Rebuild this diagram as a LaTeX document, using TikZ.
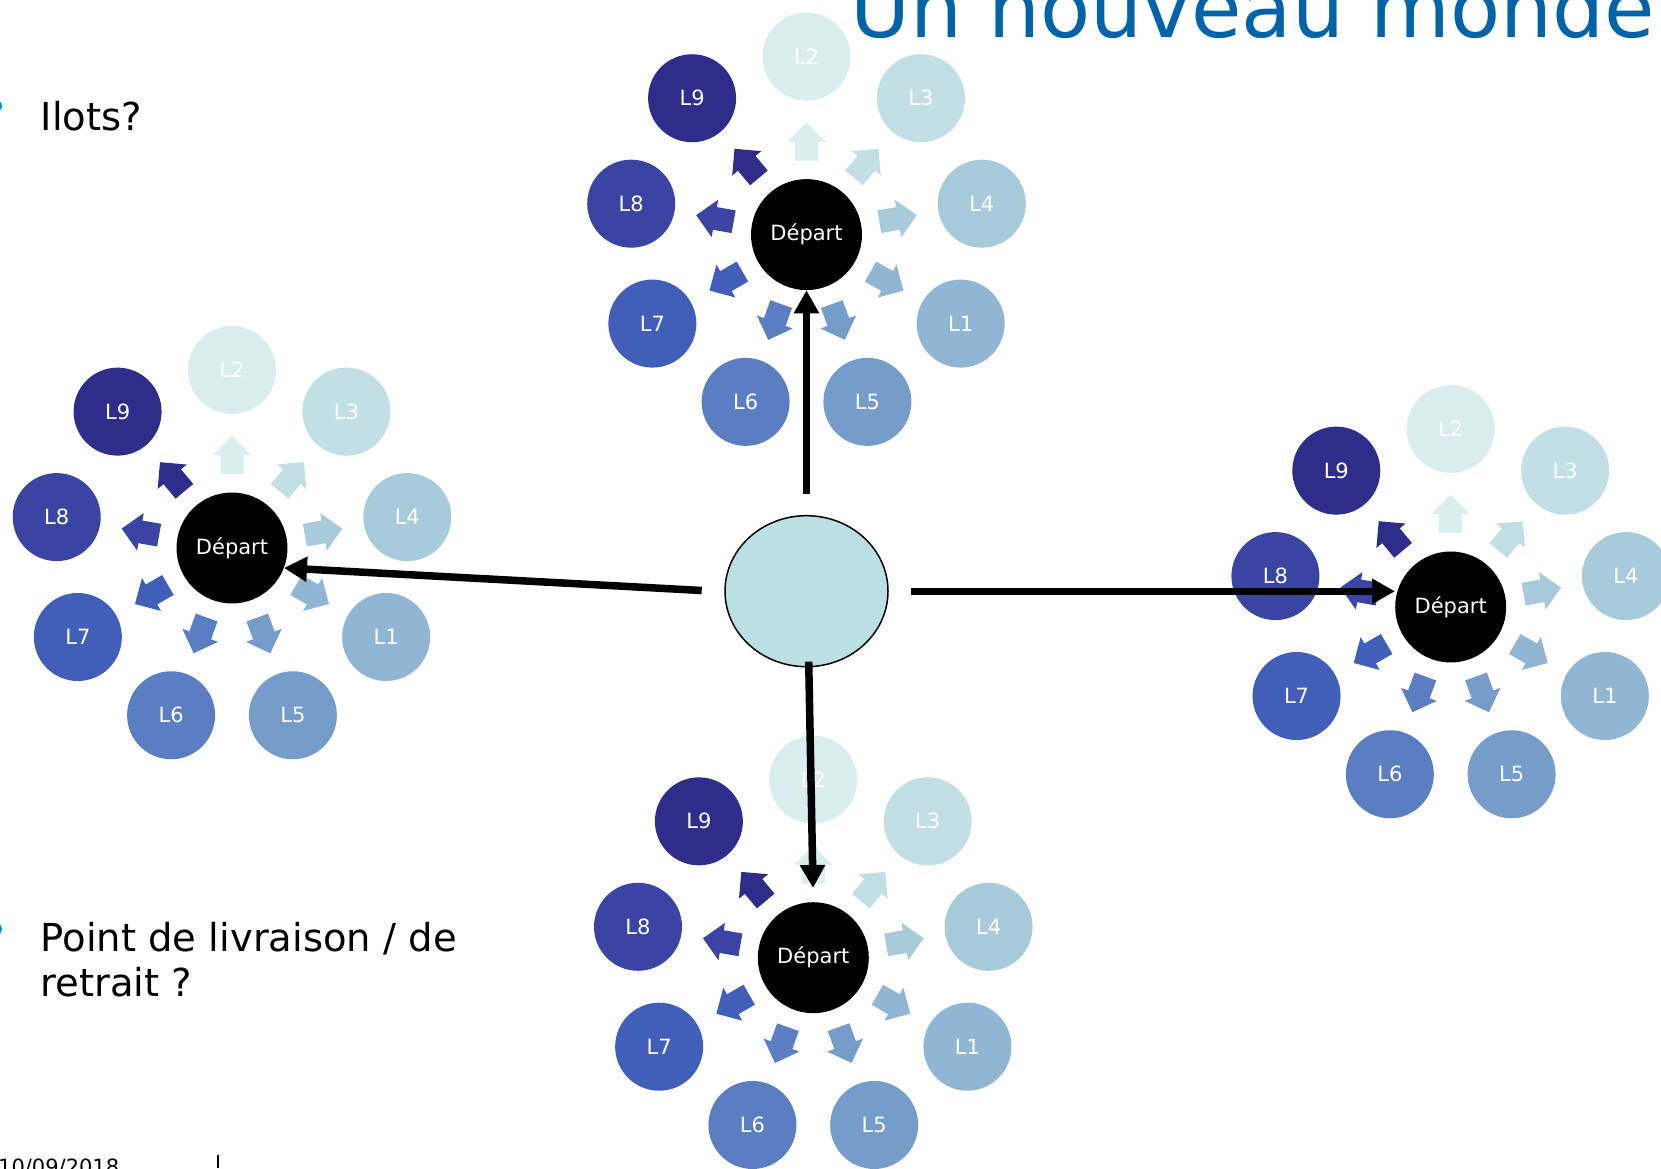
\documentclass[tikz,border=0pt]{standalone}
\usepackage{fontspec}
\setmainfont{DejaVu Sans}
\usetikzlibrary{arrows.meta,calc,shapes.geometric}
\definecolor{cLone}{HTML}{91B6D4}
\definecolor{cLtwo}{HTML}{DAEEF0}
\definecolor{cLthree}{HTML}{C1DFE4}
\definecolor{cLfour}{HTML}{A8CBDB}
\definecolor{cLfive}{HTML}{769CCA}
\definecolor{cLsix}{HTML}{5B7EC2}
\definecolor{cLseven}{HTML}{415EB8}
\definecolor{cLeight}{HTML}{3A44A3}
\definecolor{cLnine}{HTML}{2E2E8A}
\definecolor{hubcol}{HTML}{BBE0E3}
\definecolor{titleblue}{HTML}{0063A8}
\definecolor{bulletblue}{HTML}{0096D6}
\tikzset{
  satnode/.style={circle, inner sep=0pt, minimum size=88pt, text=white,
    font=\fontsize{21}{25}\selectfont},
  depnode/.style={circle, fill=black, inner sep=0pt, minimum size=111pt, text=white,
    font=\fontsize{21}{25}\selectfont},
  hubnode/.style={ellipse, draw=black, line width=1.5pt, fill=hubcol, inner sep=0pt,
    minimum width=163pt, minimum height=151pt},
  conn/.style={line width=7.5pt, -{Triangle[length=23pt,width=24pt]}},
  bigtext/.style={anchor=base west, inner sep=0pt, font=\fontsize{38.5}{45}\selectfont},
}
\newcommand\drawcluster[3]{%
  \coordinate (#1C) at (#2,#3);
  \foreach \lab/\ang/\col in {L2/90/cLtwo,L3/50/cLthree,L4/10/cLfour,L1/-30/cLone,L5/-70/cLfive,L6/-110/cLsix,L7/-150/cLseven,L8/170/cLeight,L9/130/cLnine}{%
    \node[satnode, fill=\col] (#1\lab) at ($(#1C)+(\ang:178)$) {\lab};
    \fill[\col, shift={(#1C)}, rotate=\ang] (74,-11.5) -- (93,-11.5) -- (93,-19) -- (112,0) -- (93,19) -- (93,11.5) -- (74,11.5) -- cycle;
  }
  \node[depnode] (#1D) at (#1C) {Départ};
}
\begin{document}
\begin{tikzpicture}[x=1pt,y=1pt]
\useasboundingbox (0,0) rectangle (1661,1168);
\fill[white] (0,0) rectangle (1661,1168);

% title
\node[anchor=base west, inner sep=0pt, text=titleblue, font=\fontsize{82}{90}\selectfont] (title) at (850.5,1130.3) {Un nouveau monde};

% bullets
\fill[bulletblue] (-4,1062) circle (6);
\node[bigtext] (ilots) at (40.5,1037.3) {Ilots?};
\fill[bulletblue] (-4,239) circle (6);
\node[bigtext] (point1) at (40.5,216.3) {Point de livraison / de};
\node[bigtext] (point2) at (40.5,171.3) {retrait ?};

% footer
\node[anchor=base west, inner sep=0pt, font=\fontsize{21}{25}\selectfont] (date) at (-2,-6) {10/09/2018};
\coordinate (barA) at (218,0);
\coordinate (barB) at (218,13);
\draw[line width=1.5pt] (barA) -- (barB);

% clusters
\drawcluster{t}{806.5}{933.4}
\drawcluster{l}{232}{620}
\drawcluster{r}{1450.7}{561}
\drawcluster{b}{813.3}{210.3}

% hub
\node[hubnode] (hub) at (806.5,576.8) {};

% connectors
\coordinate (cup) at (806.5,674);
\coordinate (cleft) at (701.7,577.5);
\coordinate (cright) at (911,576.7);
\coordinate (cdown) at (808.7,506.3);
\draw[conn] (cup) -- (tD.south);
\draw[conn] (cleft) -- (lD.-21.6);
\draw[conn] (cright) -- (rD.west |- cright);
\draw[conn, shorten >=14pt] (cdown) -- (bD.north);
\end{tikzpicture}
\end{document}
